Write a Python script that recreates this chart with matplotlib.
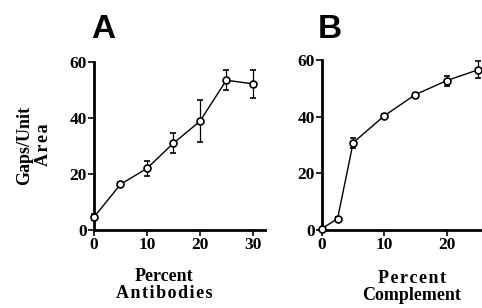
import matplotlib
matplotlib.use("Agg")
import matplotlib.pyplot as plt

# panel A: antibodies
ab_pct = [0, 5, 10, 15, 20, 25, 30]
ab_gaps = [4.6, 16.3, 22, 31, 38.8, 53.5, 52.2]
ab_err = [1, 1, 2.8, 3.5, 7.5, 3.6, 5]

# panel B: complement
co_pct = [0, 2.5, 5, 10, 15, 20, 25]
co_gaps = [0.5, 4, 30.8, 40.3, 47.8, 52.7, 56.5]
co_err = [0.3, 0.5, 1.7, 0.6, 0.6, 1.8, 3]

serif = ["Liberation Serif", "DejaVu Serif"]
fig = plt.figure(figsize=(4.82, 3.08), dpi=100)
axA = fig.add_axes([94 / 482, 1 - 230 / 308, 171 / 482, 168 / 308])
axB = fig.add_axes([322 / 482, 1 - 230 / 308, 160 / 482, 170 / 308])

axA.set_xticks([0, 10, 20, 30])
axB.set_xticks([0, 10, 20])

for ax, x, y, e, xmax in [(axA, ab_pct, ab_gaps, ab_err, 32.3),
                          (axB, co_pct, co_gaps, co_err, 25.7)]:
    ax.errorbar(x, y, yerr=e, color="black", lw=1, elinewidth=0.9, capsize=2.5,
                capthick=0.9, marker="o", ms=5, mfc="white", mec="black", mew=1.2,
                clip_on=False, zorder=3)
    ax.set_xlim(0, xmax)
    ax.set_ylim(0, 60)
    ax.set_yticks([0, 20, 40, 60])
    ax.spines["top"].set_visible(False)
    ax.spines["right"].set_visible(False)
    ax.spines["left"].set_linewidth(2)
    ax.spines["bottom"].set_linewidth(2)
    ax.tick_params(direction="out", length=4, width=1.2, pad=1)
    for lab in ax.get_xticklabels() + ax.get_yticklabels():
        lab.set_fontfamily(serif)
        lab.set_fontweight("bold")
        lab.set_fontsize(12.5)

fig.text(103 / 482, 1 - 30 / 308, "A", fontsize=24, fontweight="bold",
         family="Liberation Sans", ha="center", va="center")
fig.text(330 / 482, 1 - 30 / 308, "B", fontsize=24, fontweight="bold",
         family="Liberation Sans", ha="center", va="center")

hs = "\u200a"
fig.text(34 / 482, 1 - 145 / 308, "Gaps/Unit\n" + hs.join("Area"), rotation=90,
         fontsize=13, fontweight="bold", family=serif, ha="center", va="center",
         linespacing=1.2)
fig.text(164 / 482, 1 - 285 / 308, "Percent\n" + hs.join("Antibodies"), fontsize=13,
         fontweight="bold", family=serif, ha="center", va="center",
         linespacing=1.05)
fig.text(412 / 482, 1 - 287 / 308, hs.join("Percent") + "\nComplement", fontsize=13,
         fontweight="bold", family=serif, ha="center", va="center",
         linespacing=1.05)

fig.savefig("out.png", dpi=100)
